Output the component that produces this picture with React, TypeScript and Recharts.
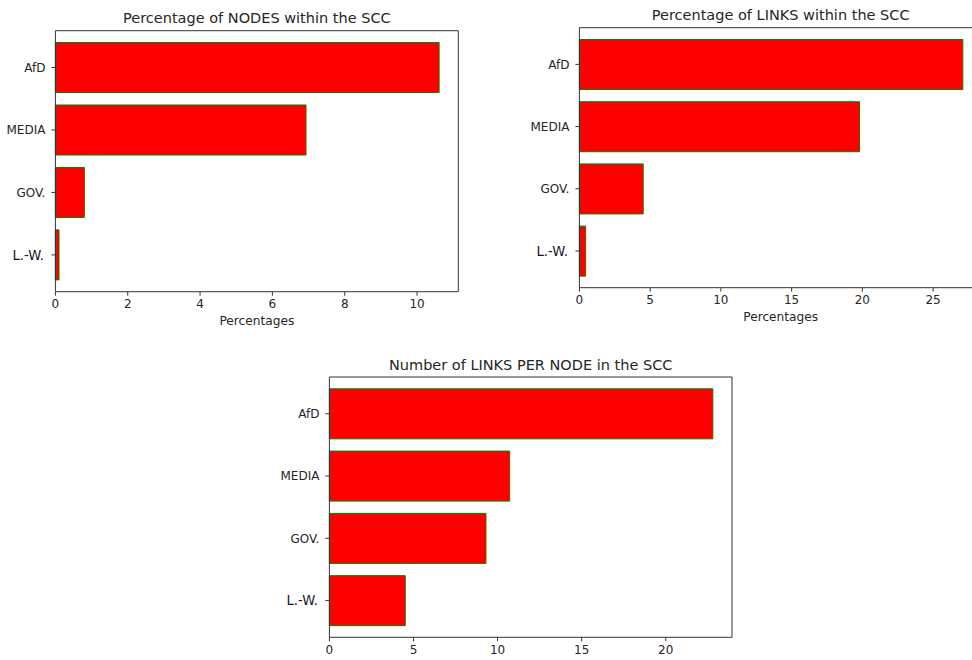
import { BarChart, Bar, XAxis, YAxis } from 'recharts'

// categories, top to bottom
const categories = ['AfD', 'MEDIA', 'GOV.', 'L.-W.']

// series values
const nodesPct = [10.61, 6.93, 0.8, 0.1]
const linksPct = [27.1, 19.8, 4.51, 0.44]
const linksPerNode = [22.8, 10.72, 9.31, 4.51]

// tick labels
const nodesTicks = [0, 2, 4, 6, 8, 10]
const linksTicks = [0, 5, 10, 15, 20, 25]
const perNodeTicks = [0, 5, 10, 15, 20]

const FONT = '"DejaVu Sans", sans-serif'
const AXIS = '#333'
const TEXT = '#262626'

function CatTick(props: any) {
  const { x, y, payload } = props
  // the L.-W. label is drawn a little bigger in the original
  const big = payload.value === 'L.-W.'
  return (
    <text
      x={big ? x - 1.5 : x}
      y={y}
      dy="0.36em"
      textAnchor="end"
      fontSize={big ? 13.2 : 12}
      fill={big ? '#14142e' : TEXT}
      fontFamily={FONT}
    >
      {payload.value}
    </text>
  )
}

type PanelProps = {
  title: string
  values: number[]
  ticks: number[]
  xLabel?: string
  width: number
  height: number
  margin: { top: number; right: number; bottom: number; left: number }
  yWidth: number
  xHeight: number
}

function Panel({ title, values, ticks, xLabel, width, height, margin, yWidth, xHeight }: PanelProps) {
  const rows = categories.map((name, i) => ({ name, value: values[i] }))
  // the frame axes take 1px each, so pull that out of the margins
  const m = { ...margin, top: margin.top - 1, right: margin.right - 1 }
  return (
    <BarChart width={width} height={height} data={rows} layout="vertical" margin={m} barCategoryGap="10%">
      <XAxis
        type="number"
        domain={[0, (v: number) => v * 1.05]}
        ticks={ticks}
        interval={0}
        height={xHeight}
        tickSize={4}
        tickMargin={4}
        tick={{ fontSize: 12, fill: TEXT, fontFamily: FONT }}
        axisLine={{ stroke: AXIS }}
        tickLine={{ stroke: AXIS }}
        label={
          xLabel
            ? { value: xLabel, position: 'insideBottom', offset: 6.7, fontSize: 12.2, fill: TEXT, fontFamily: FONT }
            : undefined
        }
      />
      {/* top edge of the frame, carries the title */}
      <XAxis
        xAxisId="top"
        orientation="top"
        type="number"
        domain={[0, 1]}
        height={1}
        tick={false}
        tickLine={false}
        axisLine={{ stroke: AXIS }}
        label={{ value: title, position: 'top', offset: 6.5, fontSize: 14.5, fill: TEXT, fontFamily: FONT }}
      />
      <YAxis
        type="category"
        dataKey="name"
        width={yWidth}
        padding={{ top: 5.6, bottom: 5.6 }}
        tickSize={4}
        tickMargin={6}
        tick={<CatTick />}
        axisLine={{ stroke: AXIS }}
        tickLine={{ stroke: AXIS }}
      />
      {/* right edge of the frame */}
      <YAxis
        yAxisId="right"
        orientation="right"
        type="category"
        dataKey="name"
        width={1}
        tick={false}
        tickLine={false}
        axisLine={{ stroke: AXIS }}
      />
      <Bar dataKey="value" fill="#ff0000" stroke="#008000" strokeWidth={1} isAnimationActive={false} />
    </BarChart>
  )
}

export default function App() {
  return (
    <div
      style={{
        position: 'absolute',
        left: 0,
        top: 0,
        width: 972,
        height: 660,
        overflow: 'hidden',
        background: '#fff',
        fontFamily: FONT,
      }}
    >
      <div style={{ position: 'absolute', left: 0, top: 0 }}>
        <Panel
          title="Percentage of NODES within the SCC"
          values={nodesPct}
          ticks={nodesTicks}
          xLabel="Percentages"
          width={470}
          height={340}
          margin={{ top: 30.7, right: 11.7, bottom: 8.3, left: 0 }}
          yWidth={55.4}
          xHeight={40}
        />
      </div>
      <div style={{ position: 'absolute', left: 500, top: 0 }}>
        <Panel
          title="Percentage of LINKS within the SCC"
          values={linksPct}
          ticks={linksTicks}
          xLabel="Percentages"
          width={500}
          height={340}
          margin={{ top: 27.7, right: 18, bottom: 12.3, left: 0 }}
          yWidth={79.4}
          xHeight={40}
        />
      </div>
      <div style={{ position: 'absolute', left: 260, top: 340 }}>
        <Panel
          title="Number of LINKS PER NODE in the SCC"
          values={linksPerNode}
          ticks={perNodeTicks}
          width={500}
          height={320}
          margin={{ top: 37, right: 28, bottom: 2.7, left: 0 }}
          yWidth={69.4}
          xHeight={20}
        />
      </div>
    </div>
  )
}
